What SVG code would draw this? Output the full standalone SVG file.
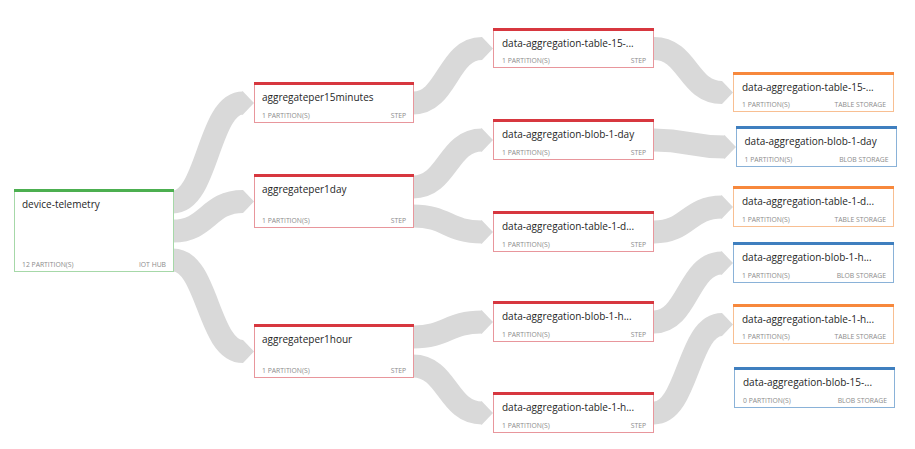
<svg xmlns="http://www.w3.org/2000/svg" width="915" height="449" viewBox="0 0 915 449">
<style>
.bg{fill:#ffffff}
.link{fill:none;stroke:#d9d9d9;stroke-width:23}
.box{fill:#ffffff;stroke-width:1}
.title{font-family:"Open Sans","Noto Sans",sans-serif;font-size:10px;fill:#262626}
.sub{font-family:"Open Sans","Noto Sans",sans-serif;font-size:6.8px;fill:#8c8c8c}
.r{text-anchor:end}
.green .box{stroke:#a6d8a8}.green .bar{fill:#4caf50}
.red .box{stroke:#e8969c}.red .bar{fill:#d7373f}
.orange .box{stroke:#f8bf92}.orange .bar{fill:#f7883c}
.blue .box{stroke:#8ab2d8}.blue .bar{fill:#3f7fbf}
</style>
<defs>
<marker id="chev" markerUnits="userSpaceOnUse" viewBox="-1 0 13 24" markerWidth="13" markerHeight="24" refX="0" refY="12" orient="auto">
<path d="M-1,0.5 L0,0.5 L11,12 L0,23.5 L-1,23.5 Z" fill="#d9d9d9"/>
</marker>
</defs>
<rect class="bg" x="0" y="0" width="915" height="449"/>
<g id="connectors">
<path class="link" marker-end="url(#chev)" d="M173,202 C208,202 208,103 243,103"/>
<path class="link" marker-end="url(#chev)" d="M173,231 C208,231 208,201.5 243,201.5"/>
<path class="link" marker-end="url(#chev)" d="M173,260 C208,260 208,351.5 243,351.5"/>
<path class="link" marker-end="url(#chev)" d="M413,103 C447.5,103 447.5,48.5 482,48.5"/>
<path class="link" marker-end="url(#chev)" d="M413,187 C447.5,187 447.5,140 482,140"/>
<path class="link" marker-end="url(#chev)" d="M413,216 C447.5,216 447.5,232 482,232"/>
<path class="link" marker-end="url(#chev)" d="M413,337 C447.5,337 447.5,322 482,322"/>
<path class="link" marker-end="url(#chev)" d="M413,366 C447.5,366 447.5,413 482,413"/>
<path class="link" marker-end="url(#chev)" d="M654,48.5 C688,48.5 688,92.5 722,92.5"/>
<path class="link" marker-end="url(#chev)" d="M654,140 C689.5,140 689.5,147 725,147"/>
<path class="link" marker-end="url(#chev)" d="M654,232 C688,232 688,207 722,207"/>
<path class="link" marker-end="url(#chev)" d="M654,322 C688,322 688,263 722,263"/>
<path class="link" marker-end="url(#chev)" d="M654,413 C688,413 688,324.5 722,324.5"/>
</g>
<g id="device-telemetry" class="green">
<rect class="box" x="14.5" y="190.5" width="159" height="81"/>
<rect class="bar" x="14" y="189" width="160" height="3"/>
<text class="title" x="22" y="207.5">device-telemetry</text>
<text class="sub" x="22" y="267">12 PARTITION(S)</text>
<text class="sub r" x="166" y="267">IOT HUB</text>
</g>
<g id="aggregateper15minutes" class="red">
<rect class="box" x="254.5" y="83.5" width="159" height="39"/>
<rect class="bar" x="254" y="82" width="160" height="3"/>
<text class="title" x="262" y="101">aggregateper15minutes</text>
<text class="sub" x="262" y="117.5">1 PARTITION(S)</text>
<text class="sub r" x="406" y="117.5">STEP</text>
</g>
<g id="aggregateper1day" class="red">
<rect class="box" x="254.5" y="175.5" width="159" height="52"/>
<rect class="bar" x="254" y="174" width="160" height="3"/>
<text class="title" x="262" y="193">aggregateper1day</text>
<text class="sub" x="262" y="222.5">1 PARTITION(S)</text>
<text class="sub r" x="406" y="222.5">STEP</text>
</g>
<g id="aggregateper1hour" class="red">
<rect class="box" x="254.5" y="325.5" width="159" height="52"/>
<rect class="bar" x="254" y="324" width="160" height="3"/>
<text class="title" x="262" y="343">aggregateper1hour</text>
<text class="sub" x="262" y="372.5">1 PARTITION(S)</text>
<text class="sub r" x="406" y="372.5">STEP</text>
</g>
<g id="step-table-15" class="red">
<rect class="box" x="493.5" y="29.5" width="160" height="38"/>
<rect class="bar" x="493" y="28" width="161" height="3"/>
<text class="title" x="502" y="47">data-aggregation-table-15-...</text>
<text class="sub" x="502" y="63">1 PARTITION(S)</text>
<text class="sub r" x="646" y="63">STEP</text>
</g>
<g id="step-blob-1-day" class="red">
<rect class="box" x="493.5" y="120.5" width="160" height="39"/>
<rect class="bar" x="493" y="119" width="161" height="3"/>
<text class="title" x="502" y="138">data-aggregation-blob-1-day</text>
<text class="sub" x="502" y="154.5">1 PARTITION(S)</text>
<text class="sub r" x="646" y="154.5">STEP</text>
</g>
<g id="step-table-1-day" class="red">
<rect class="box" x="493.5" y="212.5" width="160" height="39"/>
<rect class="bar" x="493" y="211" width="161" height="3"/>
<text class="title" x="502" y="230">data-aggregation-table-1-d...</text>
<text class="sub" x="502" y="246.5">1 PARTITION(S)</text>
<text class="sub r" x="646" y="246.5">STEP</text>
</g>
<g id="step-blob-1-hour" class="red">
<rect class="box" x="493.5" y="302.5" width="160" height="39"/>
<rect class="bar" x="493" y="301" width="161" height="3"/>
<text class="title" x="502" y="320">data-aggregation-blob-1-h...</text>
<text class="sub" x="502" y="336.5">1 PARTITION(S)</text>
<text class="sub r" x="646" y="336.5">STEP</text>
</g>
<g id="step-table-1-hour" class="red">
<rect class="box" x="493.5" y="393.5" width="160" height="39"/>
<rect class="bar" x="493" y="392" width="161" height="3"/>
<text class="title" x="502" y="411">data-aggregation-table-1-h...</text>
<text class="sub" x="502" y="427.5">1 PARTITION(S)</text>
<text class="sub r" x="646" y="427.5">STEP</text>
</g>
<g id="out-table-15" class="orange">
<rect class="box" x="733.5" y="73.5" width="160" height="38"/>
<rect class="bar" x="733" y="72" width="161" height="3"/>
<text class="title" x="742" y="91">data-aggregation-table-15-...</text>
<text class="sub" x="742" y="107">1 PARTITION(S)</text>
<text class="sub r" x="886" y="107">TABLE STORAGE</text>
</g>
<g id="out-blob-1-day" class="blue">
<rect class="box" x="736.5" y="127.5" width="160" height="39"/>
<rect class="bar" x="736" y="126" width="161" height="3"/>
<text class="title" x="744.5" y="145">data-aggregation-blob-1-day</text>
<text class="sub" x="744.5" y="161.5">1 PARTITION(S)</text>
<text class="sub r" x="888.5" y="161.5">BLOB STORAGE</text>
</g>
<g id="out-table-1-day" class="orange">
<rect class="box" x="733.5" y="187.5" width="160" height="39"/>
<rect class="bar" x="733" y="186" width="161" height="3"/>
<text class="title" x="742" y="205">data-aggregation-table-1-d...</text>
<text class="sub" x="742" y="221.5">1 PARTITION(S)</text>
<text class="sub r" x="886" y="221.5">TABLE STORAGE</text>
</g>
<g id="out-blob-1-hour" class="blue">
<rect class="box" x="733.5" y="243.5" width="160" height="39"/>
<rect class="bar" x="733" y="242" width="161" height="3"/>
<text class="title" x="742" y="261">data-aggregation-blob-1-h...</text>
<text class="sub" x="742" y="277.5">1 PARTITION(S)</text>
<text class="sub r" x="886" y="277.5">BLOB STORAGE</text>
</g>
<g id="out-table-1-hour" class="orange">
<rect class="box" x="733.5" y="305.5" width="160" height="38"/>
<rect class="bar" x="733" y="304" width="161" height="3"/>
<text class="title" x="742" y="323">data-aggregation-table-1-h...</text>
<text class="sub" x="742" y="339">1 PARTITION(S)</text>
<text class="sub r" x="886" y="339">TABLE STORAGE</text>
</g>
<g id="out-blob-15" class="blue">
<rect class="box" x="734.5" y="368.5" width="160" height="39"/>
<rect class="bar" x="734" y="367" width="161" height="3"/>
<text class="title" x="743" y="386">data-aggregation-blob-15-...</text>
<text class="sub" x="743" y="402.5">0 PARTITION(S)</text>
<text class="sub r" x="887" y="402.5">BLOB STORAGE</text>
</g>
</svg>
